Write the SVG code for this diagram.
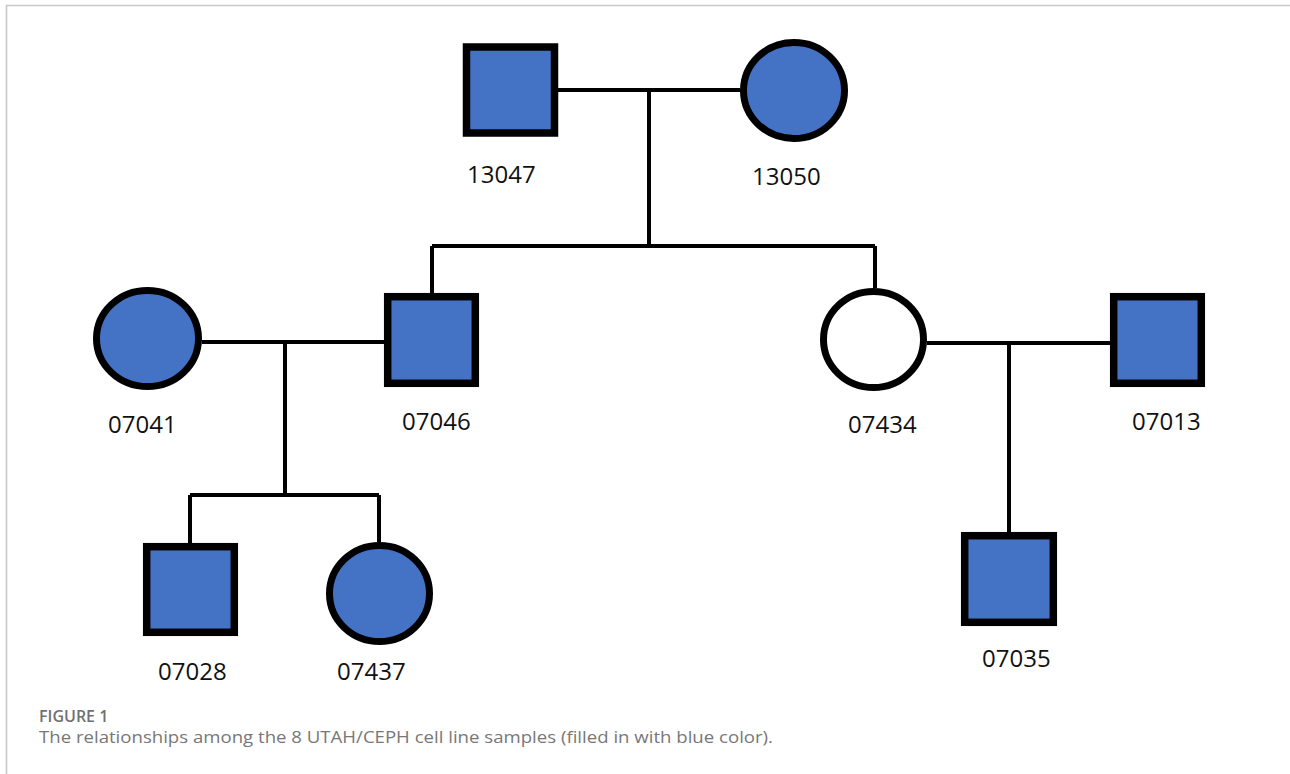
<svg xmlns="http://www.w3.org/2000/svg" width="1290" height="774" viewBox="0 0 1290 774">
<style>
.m{fill:#4472c4;stroke:#000;stroke-width:7.5}
.f{fill:#4472c4;stroke:#000;stroke-width:7}
.u{fill:#fff;stroke:#000;stroke-width:7}
.c{stroke:#000;stroke-width:4;fill:none}
.lbl{font-family:"Open Sans","Liberation Sans",sans-serif;font-size:24px;fill:#111}
.fig{font-family:"Open Sans","Liberation Sans",sans-serif;font-size:16px;font-weight:600;fill:#707070}
.cap{font-family:"Open Sans","Liberation Sans",sans-serif;font-size:16.5px;fill:#777}
</style>
<rect width="1290" height="774" fill="#fff"/>
<path d="M6.5 774V5.5H1290" fill="none" stroke="#c8c8c8" stroke-width="1.6"/>
<g id="connectors" class="c">
<path d="M557 90H740M649 90V246M432 246H875M432 246V293M875 246V288"/>
<path d="M202 342H384M285 342V495M190 495H379M190 495V543M379 495V542"/>
<path d="M927 343H1110M1009 343V533"/>
</g>
<g id="n13047"><rect class="m" x="466.5" y="47" width="88" height="86"/><text class="lbl" x="467" y="183">13047</text></g>
<g id="n13050"><ellipse class="f" cx="794" cy="90.5" rx="50.5" ry="48"/><text class="lbl" x="752" y="185">13050</text></g>
<g id="n07041"><ellipse class="f" cx="147.5" cy="338.5" rx="51" ry="48"/><text class="lbl" x="108" y="433">07041</text></g>
<g id="n07046"><rect class="m" x="387.7" y="296.7" width="87.6" height="86.6"/><text class="lbl" x="402" y="430">07046</text></g>
<g id="n07434"><ellipse class="u" cx="873.5" cy="339.5" rx="50" ry="48"/><text class="lbl" x="848" y="433">07434</text></g>
<g id="n07013"><rect class="m" x="1113.7" y="296.7" width="87.6" height="86.6"/><text class="lbl" x="1132" y="430">07013</text></g>
<g id="n07028"><rect class="m" x="146.7" y="546.7" width="87.6" height="85.6"/><text class="lbl" x="158" y="680">07028</text></g>
<g id="n07437"><ellipse class="f" cx="379.5" cy="593.5" rx="50" ry="48"/><text class="lbl" x="337" y="680">07437</text></g>
<g id="n07035"><rect class="m" x="964.7" y="535.7" width="88.6" height="86.6"/><text class="lbl" x="982" y="667">07035</text></g>
<text class="fig" x="39" y="722">FIGURE 1</text>
<text class="cap" x="39" y="743" textLength="734" lengthAdjust="spacingAndGlyphs">The relationships among the 8 UTAH/CEPH cell line samples (filled in with blue color).</text>
</svg>
